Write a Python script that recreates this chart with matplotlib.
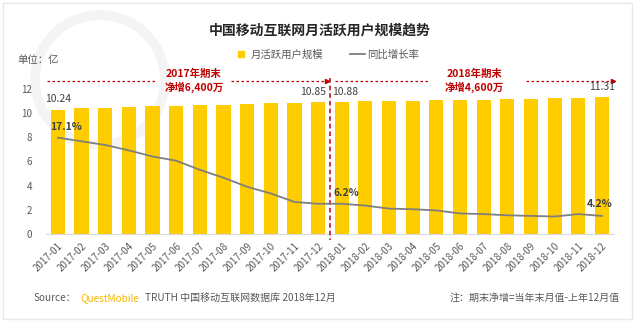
import matplotlib
matplotlib.use("Agg")
import matplotlib.pyplot as plt
from matplotlib.lines import Line2D
from matplotlib.patches import Rectangle, Ellipse

plt.rcParams['font.family'] = ['Noto Sans CJK SC', 'DejaVu Sans']

# data
months = ['2017-01', '2017-02', '2017-03', '2017-04', '2017-05', '2017-06',
          '2017-07', '2017-08', '2017-09', '2017-10', '2017-11', '2017-12',
          '2018-01', '2018-02', '2018-03', '2018-04', '2018-05', '2018-06',
          '2018-07', '2018-08', '2018-09', '2018-10', '2018-11', '2018-12']
mau = [10.24, 10.38, 10.41, 10.49, 10.57, 10.60, 10.65, 10.66, 10.74, 10.79, 10.80, 10.85,
       10.88, 10.94, 11.00, 10.97, 11.08, 11.08, 11.08, 11.11, 11.17, 11.22, 11.22, 11.31]
growth = [17.1, 16.5, 15.9, 15.0, 14.0, 13.3, 11.8, 10.5, 9.0, 7.9, 6.5, 6.2,
          6.2, 5.9, 5.4, 5.3, 5.1, 4.6, 4.5, 4.3, 4.2, 4.1, 4.5, 4.2]

bar_color = '#FFCC00'
line_color = '#7F7F7F'
red = '#C00000'
grey_txt = '#595959'

fig = plt.figure(figsize=(6.4, 3.22), dpi=100)

# faint frame and watermark ring (behind everything)
fig.patches.append(Rectangle((0.005, 0.01), 0.983, 0.98, transform=fig.transFigure,
                             fill=False, ec='#E8E8E8', lw=1, zorder=-2))
fig.patches.append(Ellipse((100 / 640, 1 - 80 / 322), 130 / 640, 130 / 322,
                           transform=fig.transFigure, fill=False, ec='#F4F4F4',
                           lw=7, zorder=-2))

ax = fig.add_axes([0.072, 0.273, 0.887, 0.452])
ax.patch.set_visible(False)
x = list(range(len(months)))
ax.bar(x, mau, width=0.6, color=bar_color, zorder=2)
ax.set_xlim(-0.5, len(months) - 0.5)
ax.set_ylim(0, 12)
ax.set_yticks([0, 2, 4, 6, 8, 10, 12])
ax.set_xticks(x)
ax.set_xticklabels(months, rotation=45, ha='right', rotation_mode='anchor')
ax.tick_params(axis='both', length=0, labelsize=7, labelcolor=grey_txt)
ax.tick_params(axis='y', pad=10)
ax.tick_params(axis='x', pad=5)
for s in ['top', 'right', 'left']:
    ax.spines[s].set_visible(False)
ax.spines['bottom'].set_color('#D9D9D9')

# growth line on hidden secondary axis
ax2 = ax.twinx()
ax2.plot(x, growth, color=line_color, lw=1.3, zorder=3)
ax2.set_ylim(1.2, 25.2)
ax2.axis('off')

# value labels
for i, dx, dy in [(0, 0, 6), (11, -5, 5), (12, 3, 5), (23, 0, 5)]:
    ax.annotate(f'{mau[i]:.2f}', (x[i], mau[i]), xytext=(dx, dy), textcoords='offset pixels',
                ha='center', va='bottom', fontsize=7.5, color='#404040')
for i, dx, dy in [(0, 8, 6), (12, 5, 6), (23, -2, 7)]:
    ax2.annotate(f'{growth[i]:.1f}%', (x[i], growth[i]), xytext=(dx, dy), textcoords='offset pixels',
                 ha='center', va='bottom', fontsize=7.5, color='#404040', fontweight='bold')

# period annotations
yl = 12.64
dash = (0, (2, 2))
ax.plot([-0.47, 4.1], [yl, yl], color=red, lw=0.9, ls=dash, clip_on=False)
ax.plot([7.3, 11.42], [yl, yl], color=red, lw=0.9, ls=dash, clip_on=False)
ax.plot(11.38, yl, marker='>', ms=3, color=red, clip_on=False)
ax.plot([11.5, 11.5], [yl + 0.2, -0.5], color=red, lw=1.1, ls=(0, (3, 2)), clip_on=False, zorder=4)
ax.plot([11.7, 15.7], [yl, yl], color=red, lw=0.9, ls=dash, clip_on=False)
ax.plot([19.8, 23.45], [yl, yl], color=red, lw=0.9, ls=dash, clip_on=False)
ax.plot(23.45, yl, marker='>', ms=3, color=red, clip_on=False)
ax.text(5.75, yl, '2017年期末\n净增6,400万', ha='center', va='center', fontsize=7.5,
        fontweight='bold', color=red, linespacing=1.35)
ax.text(17.6, yl, '2018年期末\n净增4,600万', ha='center', va='center', fontsize=7.5,
        fontweight='bold', color=red, linespacing=1.35)

# title, unit, legend
fig.text(0.5, 0.905, '中国移动互联网月活跃用户规模趋势', ha='center', va='center',
         fontsize=10, fontweight='bold', color='#262626')
fig.text(0.028, 0.815, '单位：亿', ha='left', va='center', fontsize=7.5, color=grey_txt)
handles = [Line2D([], [], marker='s', ls='none', color=bar_color, ms=4),
           Line2D([], [], color=line_color, lw=1.3)]
fig.legend(handles, ['月活跃用户规模', '同比增长率'], loc='center', bbox_to_anchor=(0.51, 0.83),
           ncol=2, frameon=False, fontsize=7.5, labelcolor=grey_txt, handlelength=1.4,
           handletextpad=0.2, columnspacing=2.6)

# footer
fy = 1 - 298 / 322
fig.text(0.052, fy, 'Source：', ha='left', va='center', fontsize=7.2, color=grey_txt)
fig.text(0.125, fy, 'QuestMobile', ha='left', va='center', fontsize=7.2, color='#F5B800')
fig.text(0.226, fy, 'TRUTH 中国移动互联网数据库 2018年12月', ha='left', va='center',
         fontsize=7.2, color=grey_txt)
fig.text(0.968, fy, '注：期末净增=当年末月值-上年12月值', ha='right', va='center',
         fontsize=7.2, color=grey_txt)

fig.savefig('out.png', dpi=100, facecolor='white')
